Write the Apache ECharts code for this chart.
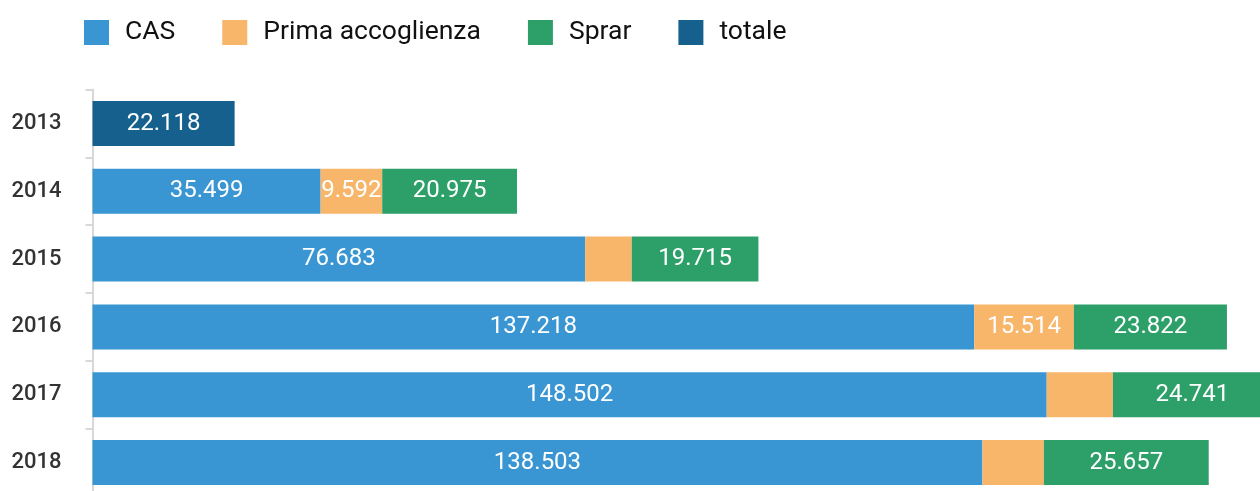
<!DOCTYPE html>
<html>
<head>
<meta charset="utf-8">
<title>Accoglienza</title>
<script src="https://cdn.jsdelivr.net/npm/echarts@6/dist/echarts.min.js"></script>
<style>
    html, body { margin: 0; padding: 0; background: #fff; overflow: hidden; }
    /* il riquadro è un po' più alto della finestra: l'ultima fascia esce in basso come nell'originale */
    #chart { width: 1260px; height: 500px; }
</style>
</head>
<body>
<div id="chart"></div>
<script>
// anni (asse verticale, dall'alto in basso)
var anni = ['2013', '2014', '2015', '2016', '2017', '2018'];

// valori per serie (null = assente)
var cas = [null, 35499, 76683, 137218, 148502, 138503];
var primaAccoglienza = [null, 9592, 7240, 15514, 10310, 9560];
var sprar = [null, 20975, 19715, 23822, 24741, 25657];
var totale = [22118, null, null, null, null, null];

// etichette non mostrate nel grafico originale (segmenti piccoli)
var primaSenzaEtichetta = ['2015', '2017', '2018'];

var colori = {
    cas: '#3996d3',
    prima: '#f8b66b',
    sprar: '#2da06a',
    totale: '#15608c'
};

//formato italiano 12.345
function numIt(v) {
    return String(v).replace(/\B(?=(\d{3})+(?!\d))/g, '.');
}

function etichetta(p) {
    if (p.value == null) return '';
    if (p.seriesName == 'Prima accoglienza' && primaSenzaEtichetta.indexOf(p.name) >= 0) return '';
    return numIt(p.value);
}

function serie(nome, dati, colore) {
    return {
        name: nome,
        type: 'bar',
        stack: 'tot',
        data: dati,
        barWidth: 45,
        clip: false,
        itemStyle: { color: colore },
        label: {
            show: true,
            position: 'inside',
            color: '#fff',
            fontFamily: 'Roboto',
            fontSize: 24,
            formatter: etichetta
        },
        emphasis: { disabled: true }
    };
}

var chart = echarts.init(document.getElementById('chart'));

chart.setOption({
    animation: false,
    textStyle: { fontFamily: 'Roboto' },
    legend: {
        left: 79,
        top: 14,
        itemWidth: 25,
        itemHeight: 25,
        itemGap: 47,
        icon: 'rect',
        textStyle: {
            fontSize: 26.5,
            color: '#111',
            padding: [0, 0, 0, 11]
        },
        data: ['CAS', 'Prima accoglienza', 'Sprar', 'totale']
    },
    grid: {
        left: 92.5,
        top: 89.6,
        height: 406.8,
        right: 0,
        containLabel: false
    },
    // l'asse arriva oltre il bordo: la barra 2017 esce dal riquadro come nell'originale
    xAxis: {
        type: 'value',
        min: 0,
        max: 181700,
        show: false
    },
    yAxis: {
        type: 'category',
        data: anni,
        inverse: true,
        axisLine: { lineStyle: { color: '#d8d8d8', width: 2 } },
        axisTick: { show: true, length: 7, lineStyle: { color: '#d8d8d8', width: 2 } },
        axisLabel: {
            fontSize: 22,
            fontWeight: 500,
            color: '#333',
            margin: 31
        }
    },
    series: [
        serie('CAS', cas, colori.cas),
        serie('Prima accoglienza', primaAccoglienza, colori.prima),
        serie('Sprar', sprar, colori.sprar),
        serie('totale', totale, colori.totale)
    ]
});
</script>
</body>
</html>
